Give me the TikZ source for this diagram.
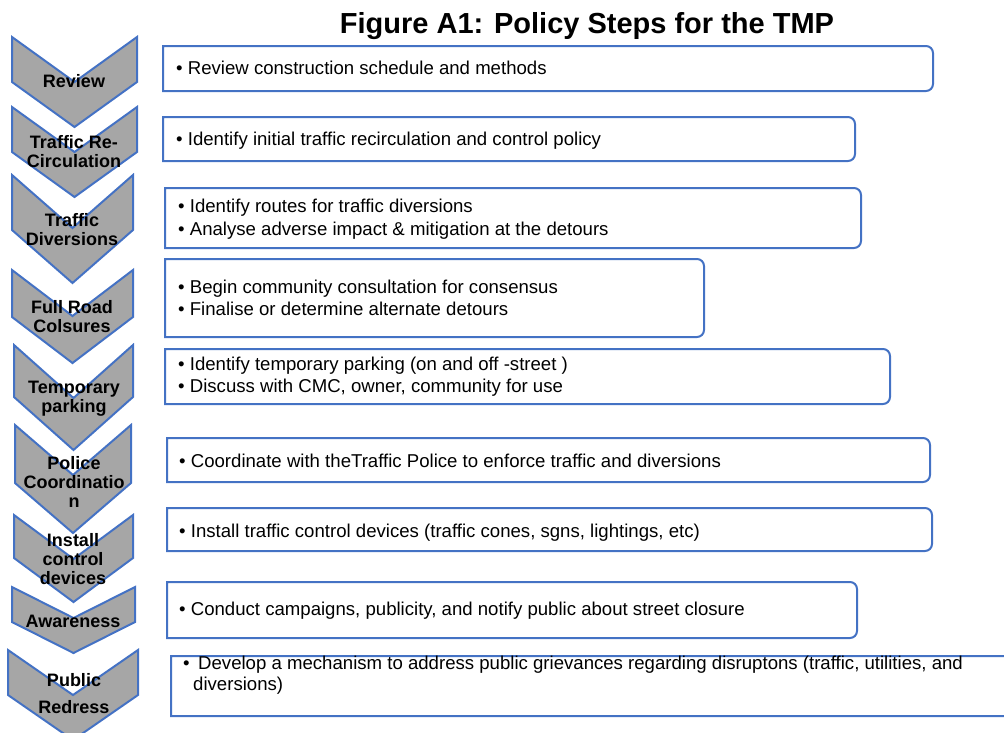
\documentclass[tikz,border=0pt]{standalone}
\usepackage{fontspec}
\setmainfont{Liberation Sans}
\definecolor{sblue}{HTML}{4472C4}
\definecolor{sgray}{HTML}{A6A6A6}
% chevron: L R T S D
\newcommand{\chev}[5]{\draw[chev] (#1,-#3) -- ({(#1+#2)/2},{-(#3+#5)}) -- (#2,-#3) -- (#2,{-(#3+#4)}) -- ({(#1+#2)/2},{-(#3+#4+#5)}) -- (#1,{-(#3+#4)}) -- cycle;}
% box: L T R B  (square left corners, rounded right corners)
\newcommand{\rbox}[4]{\draw[boxline] (#1,-#2) -- ({#3-7},-#2) arc[start angle=90,end angle=0,radius=7] -- (#3,{-(#4-7)}) arc[start angle=0,end angle=-90,radius=7] -- (#1,-#4) -- cycle;}
\begin{document}
\begin{tikzpicture}[x=1pt,y=1pt,
  chev/.style={fill=sgray,draw=sblue,line width=2pt,line join=miter},
  clabel/.style={font=\fontsize{18}{19}\selectfont\bfseries,align=center,anchor=base,inner sep=0pt},
  boxline/.style={draw=sblue,line width=2pt,fill=white},
  btext/.style={font=\fontsize{18.6}{22.5}\selectfont,align=left,anchor=base west,inner sep=0pt},
  titlestyle/.style={font=\fontsize{29}{34}\selectfont\bfseries,anchor=base,inner sep=0pt}]
\useasboundingbox (0,0) rectangle (1004,-732);
\clip (0,0) rectangle (1004,-732);

\node[titlestyle] (title) at (587,-33) {Figure A1: Policy Steps for the TMP};

% chevrons with labels (multi-line labels are placed by their last baseline)
\chev{12}{137}{37}{45}{45}
\node[clabel] (l1) at (74,-87) {Review};
\chev{12}{137}{107}{45}{45}
\node[clabel] (l2) at (74,-167) {Traffic Re-\\Circulation};
\chev{12}{133}{175}{55}{53}
\node[clabel] (l3) at (72,-245) {Traffic\\Diversions};
\chev{12}{133}{270}{47}{46}
\node[clabel] (l4) at (72,-332) {Full Road\\Colsures};
\chev{14}{133}{345}{52}{53}
\node[clabel] (l5) at (74,-412) {Temporary\\parking};
\chev{15}{131}{425}{58}{50}
\node[clabel] (l6) at (74,-507) {Police\\Coordinatio\\n};
\chev{14}{133}{515}{43}{44}
\node[clabel] (l7) at (73,-584) {Install\\control\\devices};
\chev{12}{135}{587}{35}{31}
\node[clabel] (l8) at (73,-627) {Awareness};
\chev{8}{138}{650}{45}{45}
\node[clabel,font=\fontsize{18}{27}\selectfont\bfseries] (l9) at (74,-713) {Public\\Redress};

% text boxes
\rbox{163}{46}{933}{91}
\node[btext] (t1) at (176,-74) {• Review construction schedule and methods};
\rbox{163}{117}{855}{161}
\node[btext] (t2) at (176,-145) {• Identify initial traffic recirculation and control policy};
\rbox{165}{188}{861}{248}
\node[btext] (t3) at (178,-235) {• Identify routes for traffic diversions\\• Analyse adverse impact \& mitigation at the detours};
\rbox{165}{259}{704}{337}
\node[btext] (t4) at (178,-315) {• Begin community consultation for consensus\\[-0.5pt]• Finalise or determine alternate detours};
\rbox{165}{349}{890}{404}
\node[btext] (t5) at (178,-392) {• Identify temporary parking (on and off -street )\\[-0.5pt]• Discuss with CMC, owner, community for use};
\rbox{167}{438}{930}{482}
\node[btext] (t6) at (179,-467) {• Coordinate with theTraffic Police to enforce traffic and diversions};
\rbox{167}{508}{932}{551}
\node[btext] (t7) at (179,-537) {• Install traffic control devices (traffic cones, sgns, lightings, etc)};
\rbox{167}{582}{857}{638}
\node[btext] (t8) at (179,-615) {• Conduct campaigns, publicity, and notify public about street closure};
\rbox{171}{656}{1040}{716}
\node[btext] (t9) at (183,-690) {•\hspace{8.5pt}Develop a mechanism to address public grievances regarding disruptons (traffic, utilities, and\\[-1.5pt]\hspace*{10pt}diversions)};
\end{tikzpicture}
\end{document}
